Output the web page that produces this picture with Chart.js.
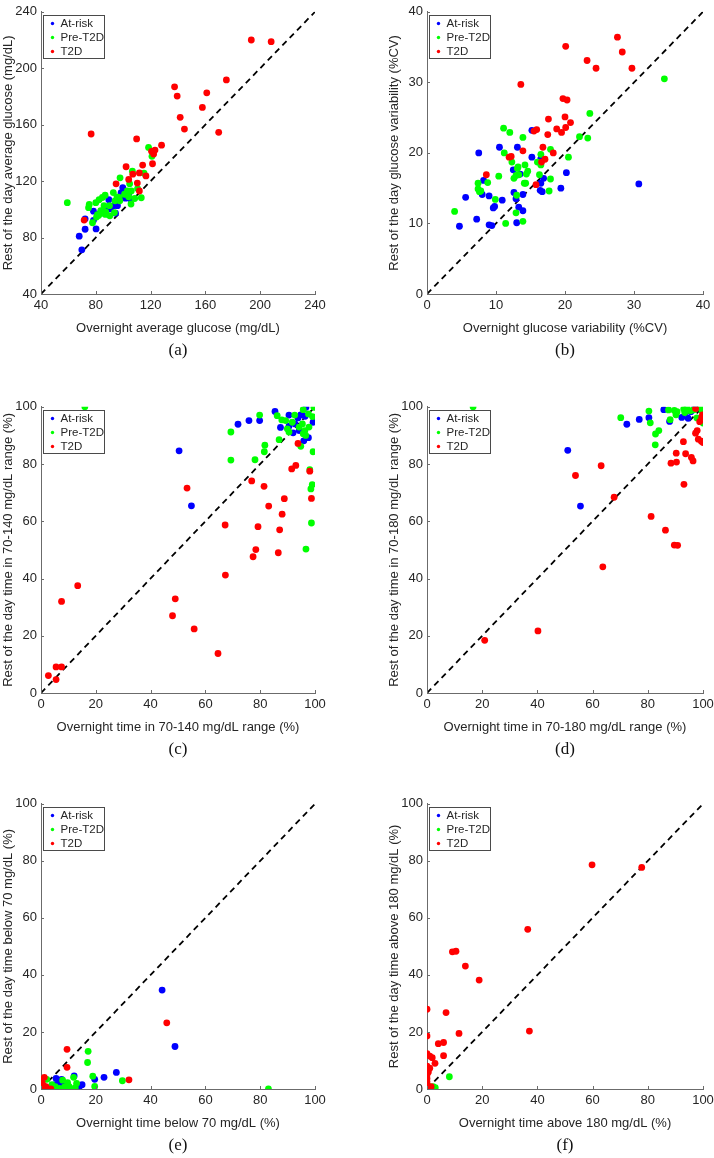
<!DOCTYPE html>
<html>
<head>
<meta charset="utf-8">
<script src="https://cdn.jsdelivr.net/npm/chart.js@4.4.0/dist/chart.umd.min.js"></script>
<style>
  body { margin: 0; background: #fff; width: 714px; height: 1158px; position: relative; overflow: hidden; }
  .panel { position: absolute; }
  .cap { position: absolute; width: 60px; height: 22px; line-height: 22px; text-align: center;
         font-family: "Liberation Serif", "DejaVu Serif", serif; font-size: 17px; color: #111; }
</style>
</head>
<body>
<script>
// (a) average glucose, mg/dL  [overnight, rest of day]
const avgRisk = [[69.8,71.3],[67.9,81],[72.2,85.9],[72.2,93.3],[78.3,98.7],[78.3,92.2],[80.2,86.1],[86.5,99.8],[89.5,106.8],[90.7,100.3],[93.1,102.6],[95.8,102.6],[94.4,97.3],[99.7,115.4],[98.5,111.9],[101.4,111.9],[104,111.2],[101.8,107.9],[105.5,107.2],[99.9,108.2],[82.4,96.8]];
const avgPre = [[59.2,104.7],[118.5,143.9],[121,137.6],[106.7,127],[97.7,122.3],[115.2,125.6],[104.7,118.1],[110.5,114.7],[105.9,113],[113.2,108.2],[92.8,111.9],[86.8,110],[84.8,108.4],[82.4,106.8],[80,104.7],[75.2,103.5],[74.7,101.2],[77.6,90.5],[80.5,94.5],[81.2,96.3],[83.6,99.1],[86,102.6],[90,102.6],[94,106],[97,108.4],[97.5,106],[101,110.7],[103,113],[105.7,103.8],[108.4,107.7],[104,108.9],[93.6,97.7],[90.2,95.4],[87.3,98],[84.4,97.3],[82,95.7],[95.5,108.9],[87,96.4]];
const avgT2d = [[193.5,220],[208,218.8],[175.3,191.7],[137.5,186.8],[139.4,180.3],[161,182.6],[157.8,172.2],[141.6,165.2],[144.7,156.9],[169.7,154.6],[76.6,153.4],[109.8,149.9],[128,145.5],[120.7,141.1],[123.2,142],[122.2,139.2],[121.4,132.3],[102.1,130.2],[114.2,131.4],[111.8,125.8],[107,124.9],[116.6,123.7],[104,121.2],[94.8,118.1],[110.3,118.6],[111.8,113],[71.5,92.4]];

// (b) glucose variability, %CV
const cvRisk = [[30.7,15.6],[7.5,20],[10.5,20.8],[13.1,20.8],[15.2,23.2],[15.2,19.4],[16.5,19.2],[12.5,17.6],[13.5,17],[16.9,16.4],[16.5,15.7],[20.2,17.2],[8.2,16.1],[8,14.1],[9,13.9],[5.6,13.7],[10.9,13.3],[9.8,12.4],[9.6,12.2],[12.6,14.4],[12.9,13.5],[13.9,14.1],[16.4,14.7],[16.7,14.5],[19.4,15],[13.3,12.3],[13.9,11.8],[7.2,10.6],[4.7,9.6],[9,9.8],[9.4,9.7],[13,10.1]];
const cvPre = [[34.4,30.5],[23.6,25.6],[22.1,22.3],[23.3,22.1],[11.1,23.5],[12,22.9],[13.9,22.2],[11.2,20],[17.9,20.5],[20.5,19.4],[16.5,19.8],[16,18.7],[16.5,18.3],[12.3,18.7],[14.2,18.3],[13.2,18],[13.1,17.8],[14.6,17.4],[14.4,17],[10.4,16.7],[13.3,16.9],[12.9,16.8],[12.6,16.4],[16.3,16.9],[17.9,16.3],[8.8,15.8],[7.4,15.7],[7.4,14.9],[7.6,14.5],[7.8,14.6],[14.1,15.7],[14.3,15.7],[17.7,14.6],[9.9,13.4],[13,14],[4,11.7],[12.9,11.5],[13.9,10.3],[11.4,10]];
const cvT2d = [[27.6,36.4],[28.3,34.3],[20.1,35.1],[23.2,33.1],[24.5,32],[29.7,32],[13.6,29.7],[19.7,27.7],[20.3,27.5],[20,25.1],[20.8,24.3],[17.6,24.8],[18.8,23.4],[20.1,23.6],[19.5,22.9],[17.5,22.6],[15.5,23.1],[15.9,23.3],[13.9,20.3],[16.8,20.8],[18.3,20],[11.9,19.4],[12.2,19.5],[17.1,19.1],[16.6,18.7],[8.6,16.9],[15.8,15.5]];

// (c) time in 70-140 mg/dL, %
const r140Risk = [[50.4,84.6],[54.9,65.4],[71.9,93.9],[75.9,95.2],[79.8,95.2],[85.4,98.4],[87.4,92.8],[90.5,97.1],[90.5,93.2],[92,90.9],[93.8,96.1],[94.8,97.2],[96.4,96.7],[96.7,99.8],[99.3,94.6],[97.6,89.2],[95.9,88.1],[94.2,91.7],[92.7,94]];
const r140Pre = [[16,100],[69.3,91.2],[69.3,81.4],[78.1,81.5],[79.8,97.1],[81.7,86.6],[81.5,84.3],[86.9,88.5],[86.2,96.9],[87.9,95.4],[89.3,95.2],[92.6,97.1],[95.7,99],[97.6,97.5],[99.6,99.8],[99.1,96.6],[91.7,94.6],[89.9,92.3],[90.5,91.2],[95.4,94],[96.3,91.7],[95.7,90.6],[96.6,90],[94.8,86.2],[99.3,84.3],[98.1,78],[99,72.8],[98.5,71.3],[98.7,59.4],[96.7,50.3],[97.8,92.9],[94.2,92.9]];
const r140T2d = [[2.7,6.1],[5.5,9.1],[7.5,9.1],[5.5,4.7],[7.5,32],[13.4,37.5],[49,32.9],[48,27],[55.9,22.4],[64.6,13.8],[53.3,71.6],[67.2,58.7],[67.3,41.2],[76.9,74.1],[81.4,72.2],[83.1,65.3],[79.2,58.1],[78.4,50.1],[77.4,47.6],[87.1,57],[88,62.5],[88.8,67.9],[86.6,49],[91.5,78.3],[93,79.5],[98.1,77.5],[98.7,68],[93.8,87.2]];

// (d) time in 70-180 mg/dL, %
const r180Risk = [[51,84.8],[55.6,65.3],[72.4,93.9],[76.9,95.6],[80.4,96.2],[85.8,99],[87.9,94.9],[92.3,96.3],[94.6,96],[93.6,98],[97,100],[95.6,98.3]];
const r180Pre = [[16.7,100],[70.2,96.2],[80.4,98.5],[80.9,94.4],[84,91.7],[82.8,90.5],[82.7,86.7],[87.5,98.9],[88.1,95.5],[89.6,98.7],[90.6,98.3],[90.2,97.2],[93,99.2],[94.2,99.8],[95.4,98.6],[96.6,98.9],[99,100],[100,94.3],[97.8,96.1],[99.6,98.6],[93.4,98]];
const r180T2d = [[20.9,18.4],[40.2,21.7],[63.7,44.1],[67.8,68.4],[53.8,76],[63.1,79.4],[81.2,61.7],[86.4,56.9],[89.6,51.7],[90.8,51.6],[93.1,72.9],[88.4,80.3],[90.4,80.7],[90.3,83.8],[93.7,83.6],[95.8,82.3],[96.4,81.1],[92.9,87.8],[97.3,90.8],[97.9,91.7],[98.3,88.7],[99.4,88],[100,87.5],[98.8,94.8],[99.5,96.3],[99.8,97.2],[97.3,99.4]];

// (e) time below 70 mg/dL, %
const lowRisk = [[44.2,34.7],[48.9,14.9],[19.6,3.4],[23,4.1],[27.5,5.8],[12.1,4.6],[13.9,0.6],[7.5,3.4],[7.6,1.4],[5.5,3.7],[6.3,2],[0.1,2.5],[4.8,1.4],[2,0.5],[1,1],[15,1.5]];
const lowPre = [[83,0],[17.2,13.2],[17,9.3],[18.9,4.5],[19.6,0.9],[29.7,2.9],[11.9,4.1],[12.5,0.5],[9.7,2.2],[10.3,0.8],[7.9,3.1],[6.7,0.2],[5.2,0.8],[3.6,0.2],[2.1,3.4],[8.6,0.7],[4,1.5],[1,0.3],[13,2]];
const lowT2d = [[45.9,23.2],[9.5,13.9],[9.5,7.6],[32.1,3.2],[1.2,4.1],[0,0.2],[1.2,0],[2.4,0],[3.6,0],[0,1],[0.5,2],[0.8,0.5],[1.8,0.8],[0,3]];

// (f) time above 180 mg/dL, %
const highRisk = [[0,0],[0.5,0.2],[0.2,0.5]];
const highPre = [[0,5.5],[8.1,4.3],[2.2,0.8],[1,0],[0.3,1.2],[0,0],[3,0.5]];
const highT2d = [[59.8,78.6],[77.8,77.7],[36.5,56],[9.2,48.1],[10.5,48.3],[13.9,43.1],[18.9,38.2],[0,28],[6.9,26.8],[37.1,20.3],[0,18.6],[11.6,19.5],[4.1,15.9],[6,16.3],[6,11.7],[0,12.4],[1,11.5],[1.9,11],[2.9,9],[0,8],[1,7.3],[0,4.9],[0,3.7],[0,2.5],[0,1.4],[0.3,0.3],[1.5,0.8],[0.5,6]];

const groupNames = ["At-risk", "Pre-T2D", "T2D"];
const groupColors = ["#0000ff", "#00ff00", "#ff0000"];

const axisColor = "#6b6b6b";
const textColor = "#262626";
const sans = "'Liberation Sans', Arial, Helvetica, sans-serif";

// inward MATLAB-like ticks plus the little legend box in the top-left corner
const matlabAxes = {
	id: "matlabAxes",
	afterDraw(chart) {
		const { ctx, chartArea: a, scales } = chart;
		ctx.save();
		ctx.strokeStyle = axisColor;
		ctx.lineWidth = 1;
		ctx.beginPath();
		scales.x.ticks.forEach(t => {
			const px = Math.round(scales.x.getPixelForValue(t.value)) + 0.5;
			ctx.moveTo(px, a.bottom);
			ctx.lineTo(px, a.bottom - 3);
		});
		scales.y.ticks.forEach(t => {
			const py = Math.round(scales.y.getPixelForValue(t.value)) + 0.5;
			ctx.moveTo(a.left, py);
			ctx.lineTo(a.left + 3, py);
		});
		ctx.stroke();

		// legend
		const bx = Math.round(a.left) + 2.5, by = Math.round(a.top) + 3.5;
		ctx.fillStyle = "#fff";
		ctx.fillRect(bx, by, 61, 43);
		ctx.strokeStyle = "#4a4a4a";
		ctx.strokeRect(bx, by, 61, 43);
		ctx.font = "11.5px " + sans;
		ctx.textBaseline = "middle";
		chart.data.datasets.slice(0, 3).forEach((ds, i) => {
			const cy = by + 8 + i * 14;
			ctx.fillStyle = ds.backgroundColor;
			ctx.beginPath();
			ctx.arc(bx + 9, cy, 1.7, 0, Math.PI * 2);
			ctx.fill();
			ctx.fillStyle = textColor;
			ctx.fillText(ds.label, bx + 17, cy + 0.5);
		});
		ctx.restore();
	},
};

function scatterSet(i, pts) {
	return {
		type: "scatter",
		label: groupNames[i],
		data: pts.map(p => ({ x: p[0], y: p[1] })),
		backgroundColor: groupColors[i],
		borderWidth: 0,
		pointRadius: 3.4,
		pointHoverRadius: 3.4,
		order: 3 - i,
	};
}

function axis(pos, title, min, max, step) {
	return {
		type: "linear",
		position: pos,
		min: min,
		max: max,
		ticks: { stepSize: step, font: { family: sans, size: 13 }, color: textColor, padding: 4, maxRotation: 0, autoSkip: false },
		grid: { display: false, drawTicks: false },
		border: { display: true, color: axisColor, width: 1 },
		title: {
			display: true,
			text: title,
			font: { family: sans, size: 13 },
			color: textColor,
			padding: pos === "left" ? { top: 1, bottom: 0 } : { top: 0, bottom: 8 },
		},
		afterFit(s) {
			if (pos === "left") s.width = 41;
			else s.height = 50;
		},
	};
}

const panels = [
	{ L: 41, T: 8, w: 274, h: 286, cap: "(a)", min: 40, max: 240, step: 40, sets: [avgRisk, avgPre, avgT2d],
	  xt: "Overnight average glucose (mg/dL)", yt: "Rest of the day average glucose (mg/dL)" },
	{ L: 427, T: 8, w: 276, h: 286, cap: "(b)", min: 0, max: 40, step: 10, sets: [cvRisk, cvPre, cvT2d],
	  xt: "Overnight glucose variability (%CV)", yt: "Rest of the day glucose variability (%CV)" },
	{ L: 41, T: 403, w: 274, h: 290, cap: "(c)", min: 0, max: 100, step: 20, sets: [r140Risk, r140Pre, r140T2d],
	  xt: "Overnight time in 70-140 mg/dL range (%)", yt: "Rest of the day time in 70-140 mg/dL range (%)" },
	{ L: 427, T: 403, w: 276, h: 290, cap: "(d)", min: 0, max: 100, step: 20, sets: [r180Risk, r180Pre, r180T2d],
	  xt: "Overnight time in 70-180 mg/dL range (%)", yt: "Rest of the day time in 70-180 mg/dL range (%)" },
	{ L: 41, T: 800, w: 274, h: 289, cap: "(e)", min: 0, max: 100, step: 20, sets: [lowRisk, lowPre, lowT2d],
	  xt: "Overnight time below 70 mg/dL (%)", yt: "Rest of the day time below 70 mg/dL (%)" },
	{ L: 427, T: 800, w: 276, h: 289, cap: "(f)", min: 0, max: 100, step: 20, sets: [highRisk, highPre, highT2d],
	  xt: "Overnight time above 180 mg/dL (%)", yt: "Rest of the day time above 180 mg/dL (%)" },
];

panels.forEach(p => {
	const box = document.createElement("div");
	box.className = "panel";
	box.style.left = (p.L - 41) + "px";
	box.style.top = (p.T - 8) + "px";
	box.style.width = (41 + p.w + 16) + "px";
	box.style.height = (8 + p.h + 50) + "px";
	const cv = document.createElement("canvas");
	box.appendChild(cv);
	document.body.appendChild(box);

	const cap = document.createElement("div");
	cap.className = "cap";
	cap.textContent = p.cap;
	cap.style.left = (p.L + p.w / 2 - 30) + "px";
	cap.style.top = (p.T + p.h + 45) + "px";
	document.body.appendChild(cap);

	const datasets = p.sets.map((s, i) => scatterSet(i, s));
	datasets.push({
		type: "line",
		label: "identity",
		data: [{ x: p.min, y: p.min }, { x: p.max, y: p.max }],
		borderColor: "#000",
		borderWidth: 1.8,
		borderDash: [6, 4.5],
		pointRadius: 0,
		fill: false,
		order: 4,
	});

	new Chart(cv, {
		type: "scatter",
		data: { datasets: datasets },
		options: {
			responsive: true,
			maintainAspectRatio: false,
			animation: false,
			layout: { padding: { top: 8, right: 16, left: 0, bottom: 0 } },
			plugins: { legend: { display: false }, tooltip: { enabled: false } },
			scales: {
				x: axis("bottom", p.xt, p.min, p.max, p.step),
				y: axis("left", p.yt, p.min, p.max, p.step),
			},
		},
		plugins: [matlabAxes],
	});
});
</script>
</body>
</html>
